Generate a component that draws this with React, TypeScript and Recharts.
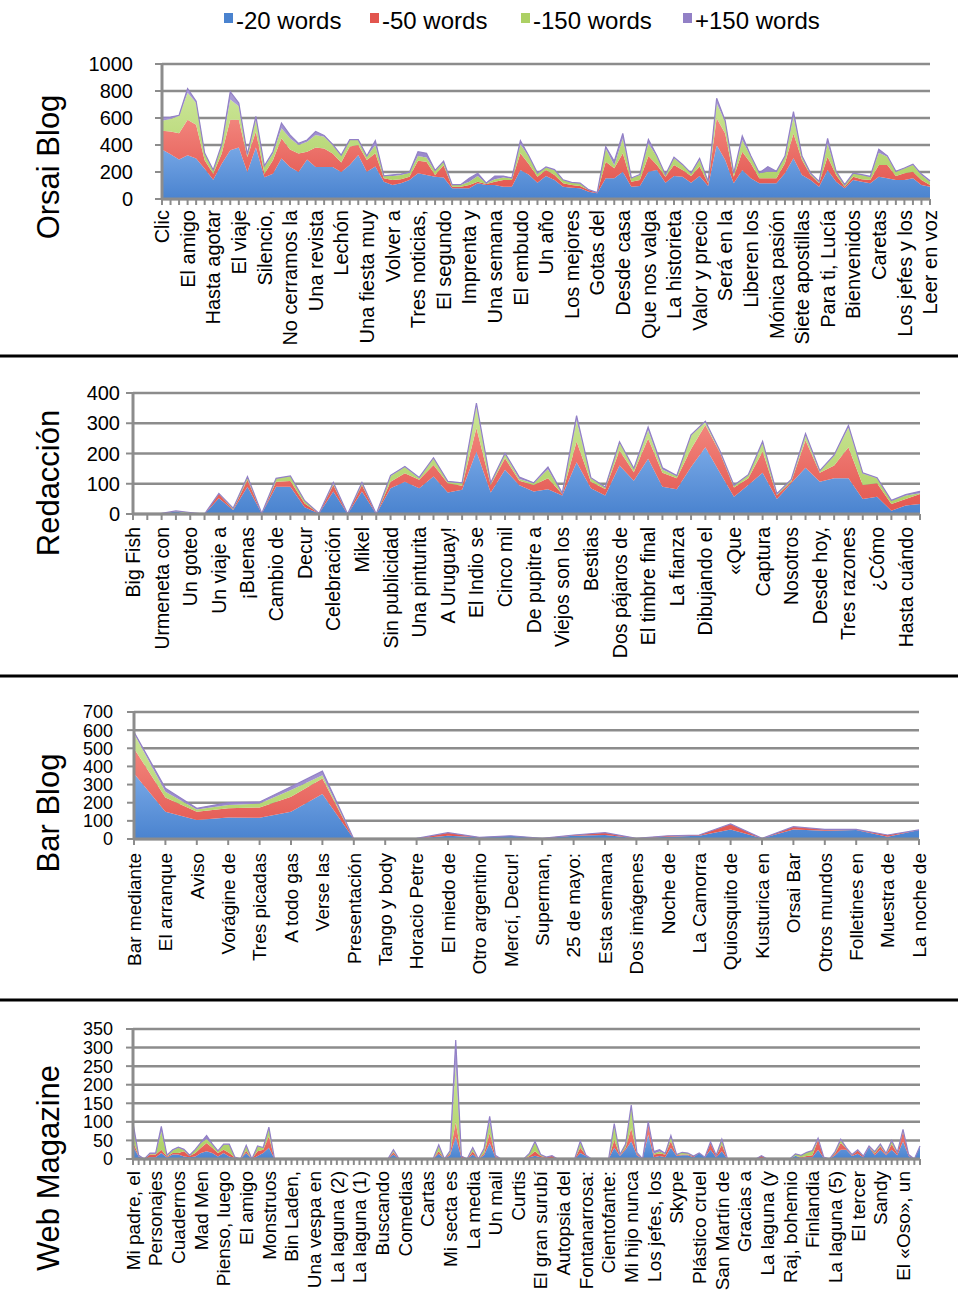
import React from 'react';
import { AreaChart, Area, XAxis, YAxis, CartesianGrid } from 'recharts';

const W = 958;
const FONT = '"Liberation Sans", Arial, Helvetica, sans-serif';
const GRID = '#8c8c8c';

const seriesKeys = ['w20', 'w50', 'w150', 'wMore'];
const seriesNames = ['-20 words', '-50 words', '-150 words', '+150 words'];
const seriesDark = ['#4a83cf', '#e2554e', '#acd064', '#9280c6'];
const seriesLight = ['#78a8e6', '#f2857d', '#cbe597', '#ab9dd8'];

// ---- Orsai Blog (91 posts, every 3rd labelled)
const orsaiLabels = ['Clic', 'El amigo', 'Hasta agotar', 'El viaje', 'Silencio,', 'No cerramos la', 'Una revista', 'Lechón', 'Una fiesta muy', 'Volver a', 'Tres noticias,', 'El segundo', 'Imprenta y', 'Una semana', 'El embudo', 'Un año', 'Los mejores', 'Gotas del', 'Desde casa', 'Que nos valga', 'La historieta', 'Valor y precio', 'Será en la', 'Liberen los', 'Mónica pasión', 'Siete apostillas', 'Para ti, Lucía', 'Bienvenidos', 'Caretas', 'Los jefes y los', 'Leer en voz'];
const orsai20 = [
  367, 332, 292, 325, 300, 225, 142, 262, 362, 382,
  200, 382, 162, 187, 300, 237, 200, 292, 237, 237,
  237, 200, 252, 326, 202, 240, 128, 104, 116, 140,
  190, 178, 165, 160, 79, 79, 79, 116, 104, 104,
  91, 91, 215, 180, 121, 170, 140, 91, 84, 79,
  54, 42, 153, 153, 202, 91, 96, 202, 215, 121,
  170, 165, 121, 170, 96, 400, 289, 116, 215, 153,
  116, 116, 116, 190, 301, 178, 140, 91, 215, 128,
  79, 140, 128, 116, 165, 153, 140, 140, 153, 104,
  91,
];
const orsai50 = [
  138, 168, 195, 262, 250, 62, 45, 75, 225, 205,
  112, 118, 25, 100, 150, 130, 137, 58, 145, 138,
  100, 70, 136, 74, 87, 98, 25, 36, 30, 25,
  94, 98, 13, 90, 12, 12, 25, 12, 7, 24,
  49, 49, 123, 77, 44, 45, 38, 25, 20, 17,
  13, 5, 123, 74, 136, 37, 44, 116, 37, 44,
  82, 50, 49, 70, 20, 198, 197, 49, 135, 111,
  37, 37, 37, 74, 185, 111, 38, 25, 98, 50,
  12, 25, 18, 24, 87, 99, 30, 50, 49, 36,
  13,
];
const orsai150 = [
  75, 92, 130, 200, 162, 50, 25, 63, 150, 100,
  13, 87, 50, 50, 75, 83, 63, 75, 93, 87,
  63, 50, 49, 37, 24, 62, 17, 30, 32, 30,
  34, 32, 32, 26, 13, 13, 24, 42, 5, 18,
  20, 13, 67, 56, 25, 19, 37, 24, 17, 20,
  0, 0, 99, 23, 111, 25, 38, 94, 61, 13,
  49, 37, 20, 49, 12, 111, 87, 25, 87, 49,
  37, 49, 49, 49, 124, 24, 12, 12, 99, 24,
  13, 25, 32, 25, 91, 61, 32, 37, 50, 38,
  24,
];
const orsaiMore = [
  25, 15, 3, 30, 13, 3, 3, 5, 58, 25,
  5, 25, 8, 13, 37, 25, 12, 12, 25, 8,
  5, 5, 3, 3, 5, 32, 2, 8, 7, 3,
  32, 30, 2, 4, 2, 2, 25, 20, 2, 24,
  10, 3, 27, 5, 2, 3, 3, 2, 2, 2,
  2, 1, 13, 30, 37, 3, 4, 30, 7, 2,
  9, 4, 2, 12, 2, 37, 7, 2, 30, 7,
  3, 38, 3, 5, 37, 5, 2, 2, 37, 3,
  2, 2, 3, 2, 25, 7, 3, 3, 6, 7,
  7,
];

// ---- Redacción (56 posts, every 2nd labelled)
const redLabels = ['Big Fish', 'Urmeneta con', 'Un goteo', 'Un viaje a', '¡Buenas', 'Cambio de', 'Decur', 'Celebración', 'Mikel', 'Sin publicidad', 'Una pinturita', 'A Uruguay!', 'El Indio se', 'Cinco mil', 'De pupitre a', 'Viejos son los', 'Bestias', 'Dos pájaros de', 'El timbre final', 'La fianza', 'Dibujando el', '«Que', 'Captura', 'Nosotros', 'Desde hoy,', 'Tres razones', '¿Cómo', 'Hasta cuándo'];
const red20 = [
  0, 0, 2, 8, 0, 0, 52, 13, 90, 2,
  90, 90, 22, 2, 74, 0, 74, 0, 85, 107,
  85, 124, 71, 80, 207, 71, 146, 95, 74, 82,
  61, 171, 85, 61, 160, 110, 183, 90, 82, 155,
  221, 138, 57, 96, 136, 50, 102, 153, 107, 118,
  118, 50, 57, 11, 28, 33,
];
const red50 = [
  0, 0, 0, 0, 0, 0, 14, 2, 23, 0,
  17, 19, 13, 0, 22, 0, 22, 0, 22, 28,
  28, 38, 31, 13, 77, 25, 38, 15, 22, 36,
  5, 69, 22, 22, 50, 28, 67, 46, 36, 60,
  73, 67, 31, 22, 71, 12, 5, 91, 29, 42,
  103, 46, 45, 22, 22, 33,
];
const red150 = [
  0, 0, 0, 2, 5, 0, 2, 4, 11, 0,
  11, 17, 9, 0, 8, 0, 8, 0, 19, 20,
  5, 22, 5, 9, 72, 6, 15, 6, 6, 30,
  2, 71, 11, 5, 27, 11, 28, 11, 8, 45,
  11, 5, 6, 11, 31, 4, 6, 16, 6, 33,
  66, 38, 16, 11, 11, 3,
];
const redMore = [
  0, 0, 0, 0, 0, 0, 0, 0, 0, 0,
  0, 0, 0, 0, 0, 0, 0, 0, 2, 2,
  3, 2, 1, 1, 11, 1, 2, 6, 1, 7,
  1, 14, 2, 1, 2, 2, 9, 6, 1, 2,
  2, 1, 1, 1, 2, 1, 1, 6, 1, 2,
  6, 2, 2, 1, 3, 6,
];

// ---- Bar Blog (26 posts, all labelled)
const barLabels = ['Bar mediante', 'El arranque', 'Aviso', 'Vorágine de', 'Tres picadas', 'A todo gas', 'Verse las', 'Presentación', 'Tango y body', 'Horacio Petre', 'El miedo de', 'Otro argentino', 'Mercí, Decur!', 'Superman,', '25 de mayo:', 'Esta semana', 'Dos imágenes', 'Noche de', 'La Camorra', 'Quiosquito de', 'Kusturica en', 'Orsai Bar', 'Otros mundos', 'Folletines en', 'Muestra de', 'La noche de'];
const bar20 = [361, 150, 105, 119, 117, 150, 248, 0, 0, 3, 18, 9, 18, 4, 18, 22, 4, 13, 18, 53, 4, 53, 46, 50, 13, 50];
const bar50 = [138, 79, 45, 50, 57, 83, 86, 0, 0, 0, 17, 0, 0, 0, 4, 13, 0, 5, 4, 30, 0, 15, 7, 3, 9, 0];
const bar150 = [83, 31, 13, 18, 22, 37, 18, 0, 0, 0, 0, 0, 0, 0, 0, 0, 0, 0, 0, 0, 0, 0, 0, 0, 0, 0];
const barMore = [8, 19, 6, 13, 8, 18, 22, 0, 0, 0, 0, 0, 0, 0, 0, 0, 0, 0, 0, 0, 0, 0, 0, 0, 0, 0];

// ---- Web Magazine (140 posts, every 4th labelled)
const webLabels = ['Mi padre, el', 'Personajes', 'Cuadernos', 'Mad Men', 'Pienso, luego', 'El amigo', 'Monstruos', 'Bin Laden,', 'Una vespa en', 'La laguna (2)', 'La laguna (1)', 'Buscando', 'Comedias', 'Cartas', 'Mi secta es', 'La media', 'Un mail', 'Curtis', 'El gran surubí', 'Autopsia del', 'Fontanarrosa:', 'Cientofante:', 'Mi hijo nunca', 'Los jefes, los', 'Skype', 'Plástico cruel', 'San Martín de', 'Gracias a', 'La laguna (y', 'Raj, bohemio', 'Finlandia', 'La laguna (5)', 'El tercer', 'Sandy', 'El «Oso», un'];
const web20 = [
  34, 7, 0, 5, 5, 16, 4, 12, 12, 7,
  5, 7, 16, 21, 16, 7, 16, 7, 3, 0,
  16, 0, 8, 16, 30, 0, 0, 0, 0, 0,
  0, 0, 0, 0, 0, 0, 0, 0, 0, 0,
  0, 0, 0, 0, 0, 0, 12, 0, 0, 0,
  0, 0, 0, 0, 14, 0, 10, 60, 3, 0,
  12, 0, 10, 43, 5, 0, 0, 0, 0, 0,
  5, 9, 5, 3, 3, 0, 0, 0, 0, 16,
  8, 0, 0, 0, 0, 30, 8, 25, 48, 10,
  0, 66, 5, 8, 5, 30, 8, 10, 10, 5,
  16, 5, 25, 5, 21, 0, 0, 0, 0, 0,
  0, 3, 0, 0, 0, 0, 0, 9, 3, 5,
  5, 25, 3, 0, 10, 25, 25, 8, 14, 5,
  32, 10, 25, 10, 25, 10, 48, 8, 0, 34,
];
const web50 = [
  14, 1, 0, 7, 7, 9, 3, 4, 4, 14,
  3, 9, 14, 22, 14, 9, 9, 9, 1, 0,
  6, 0, 13, 9, 31, 0, 0, 0, 0, 0,
  0, 0, 0, 0, 0, 0, 0, 0, 0, 0,
  0, 0, 0, 0, 0, 0, 6, 0, 0, 0,
  0, 0, 0, 0, 7, 0, 5, 40, 5, 0,
  8, 0, 5, 27, 3, 0, 0, 0, 0, 0,
  3, 12, 3, 2, 6, 0, 0, 0, 0, 14,
  2, 0, 0, 0, 0, 22, 2, 5, 35, 5,
  0, 31, 7, 7, 7, 18, 2, 2, 2, 3,
  0, 0, 18, 3, 18, 0, 0, 0, 0, 0,
  0, 6, 0, 0, 0, 0, 0, 0, 2, 3,
  5, 27, 2, 0, 5, 18, 3, 2, 9, 3,
  2, 5, 9, 2, 15, 5, 27, 4, 0, 1,
];
const web150 = [
  35, 1, 0, 2, 2, 50, 2, 7, 14, 4,
  2, 9, 13, 11, 9, 5, 14, 23, 1, 0,
  14, 0, 13, 5, 22, 0, 0, 0, 0, 0,
  0, 0, 0, 0, 0, 0, 0, 0, 0, 0,
  0, 0, 0, 0, 0, 0, 4, 0, 0, 0,
  0, 0, 0, 0, 13, 0, 5, 155, 0, 0,
  8, 0, 10, 31, 2, 0, 0, 0, 0, 0,
  7, 24, 4, 0, 0, 0, 0, 0, 0, 15,
  0, 0, 0, 0, 0, 40, 2, 10, 59, 3,
  0, 0, 3, 5, 2, 13, 2, 6, 4, 0,
  0, 0, 2, 2, 13, 0, 0, 0, 0, 0,
  0, 0, 0, 0, 0, 0, 0, 5, 5, 10,
  13, 3, 0, 0, 5, 9, 2, 2, 2, 0,
  1, 5, 5, 3, 8, 3, 3, 0, 0, 0,
];
const webMore = [
  14, 1, 0, 2, 2, 13, 1, 2, 2, 1,
  0, 1, 2, 9, 2, 1, 1, 1, 0, 0,
  1, 0, 1, 1, 3, 0, 0, 0, 0, 0,
  0, 0, 0, 0, 0, 0, 0, 0, 0, 0,
  0, 0, 0, 0, 0, 0, 3, 0, 0, 0,
  0, 0, 0, 0, 4, 0, 2, 65, 0, 0,
  3, 0, 3, 14, 0, 0, 0, 0, 0, 0,
  0, 2, 0, 0, 0, 0, 0, 0, 0, 3,
  0, 0, 0, 0, 0, 3, 0, 0, 3, 0,
  0, 3, 5, 5, 1, 2, 0, 0, 0, 0,
  0, 0, 1, 0, 1, 0, 0, 0, 0, 0,
  0, 0, 0, 0, 0, 0, 0, 0, 0, 0,
  0, 1, 0, 0, 0, 1, 0, 0, 0, 0,
  0, 0, 1, 0, 2, 0, 2, 0, 0, 0,
];

type PanelProps = {
  id: string;
  labels: string[];
  step: number;
  w20: number[];
  w50: number[];
  w150: number[];
  wMore: number[];
  yTicks: number[];
  top: number;
  height: number;
  plotTop: number;
  plotBottom: number;
  plotLeft: number;
  plotRight: number;
  yGap: number;
  yFont: number;
  xGap: number;
  xFont: number;
};

function Panel(p: PanelProps) {
  const data = p.w20.map((v, i) => ({
    name: i % p.step === 0 ? p.labels[i / p.step] : '',
    w20: v,
    w50: p.w50[i],
    w150: p.w150[i],
    wMore: p.wMore[i],
  }));
  const xAxisHeight = p.top + p.height - p.plotBottom;
  const yMax = p.yTicks[p.yTicks.length - 1];

  const renderTick = (props: any) => {
    const { x, y, index } = props;
    if (index % p.step !== 0) return <g />;
    const ty = y + p.xGap;
    return (
      <text
        x={x}
        y={ty}
        transform={`rotate(-90, ${x}, ${ty})`}
        textAnchor="end"
        dy="0.36em"
        fontSize={p.xFont}
        fontFamily={FONT}
        fill="#000"
      >
        {p.labels[index / p.step]}
      </text>
    );
  };

  return (
    <div style={{ position: 'absolute', left: 0, top: p.top }}>
      <AreaChart
        width={W}
        height={p.height}
        data={data}
        margin={{ top: p.plotTop - p.top, right: W - p.plotRight, bottom: 0, left: 0 }}
      >
        <defs>
          {seriesKeys.map((k, i) => (
            <linearGradient key={k} id={`${p.id}-${k}`} x1="0" y1="0" x2="0" y2="1">
              <stop offset="0%" stopColor={seriesLight[i]} />
              <stop offset="100%" stopColor={seriesDark[i]} />
            </linearGradient>
          ))}
        </defs>
        <CartesianGrid vertical={false} stroke={GRID} strokeWidth={2.5} />
        <XAxis
          dataKey="name"
          interval={0}
          height={xAxisHeight}
          axisLine={{ stroke: GRID, strokeWidth: 3 }}
          tickLine={{ stroke: GRID, strokeWidth: 2 }}
          tickSize={6}
          tickMargin={2}
          tick={renderTick}
        />
        <YAxis
          type="number"
          domain={[0, yMax]}
          ticks={p.yTicks}
          interval={0}
          width={p.plotLeft}
          axisLine={{ stroke: GRID, strokeWidth: 3 }}
          tickLine={{ stroke: GRID, strokeWidth: 2 }}
          tickSize={7}
          tickMargin={p.yGap}
          tick={{ fontSize: p.yFont, fill: '#000', fontFamily: FONT }}
        />
        {seriesKeys.map((k, i) => (
          <Area
            key={k}
            type="linear"
            dataKey={k}
            name={seriesNames[i]}
            stackId="1"
            fill={`url(#${p.id}-${k})`}
            fillOpacity={1}
            stroke={k === 'wMore' ? seriesDark[i] : 'none'}
            strokeWidth={k === 'wMore' ? 1.2 : 0}
            dot={false}
            activeDot={false}
            isAnimationActive={false}
          />
        ))}
      </AreaChart>
    </div>
  );
}

const legendSquares = [224, 370, 521, 683];

export default function App() {
  return (
    <div style={{ position: 'absolute', left: 0, top: 0, width: W, height: 1291, background: '#fff', fontFamily: FONT, overflow: 'hidden' }}>
      <svg width={W} height={1291} style={{ position: 'absolute', left: 0, top: 0 }}>
        {seriesNames.map((n, i) => (
          <g key={n}>
            <rect x={legendSquares[i]} y={13} width={9} height={10} fill={seriesDark[i]} />
            <text x={legendSquares[i] + 12} y={29} fontSize={24} fontFamily={FONT} fill="#000">{n}</text>
          </g>
        ))}
        {[
          { t: 'Orsai Blog', y: 167 },
          { t: 'Redacción', y: 483 },
          { t: 'Bar Blog', y: 813 },
          { t: 'Web Magazine', y: 1168 },
        ].map((d) => (
          <text
            key={d.t}
            x={48}
            y={d.y}
            transform={`rotate(-90, 48, ${d.y})`}
            textAnchor="middle"
            dy="0.35em"
            fontSize={31}
            fontFamily={FONT}
            fill="#000"
          >
            {d.t}
          </text>
        ))}
        {[356, 676, 1000].map((y) => (
          <rect key={y} x={0} y={y - 1.5} width={W} height={3} fill="#000" />
        ))}
      </svg>
      <Panel id="orsai" labels={orsaiLabels} step={3} w20={orsai20} w50={orsai50} w150={orsai150} wMore={orsaiMore}
        yTicks={[0, 200, 400, 600, 800, 1000]} top={50} height={300} plotTop={64} plotBottom={199} plotLeft={162} plotRight={930}
        yGap={22} yFont={20} xGap={3} xFont={20} />
      <Panel id="red" labels={redLabels} step={2} w20={red20} w50={red50} w150={red150} wMore={redMore}
        yTicks={[0, 100, 200, 300, 400]} top={370} height={295} plotTop={393} plotBottom={514} plotLeft={133} plotRight={920}
        yGap={6} yFont={20} xGap={5} xFont={19.5} />
      <Panel id="bar" labels={barLabels} step={1} w20={bar20} w50={bar50} w150={bar150} wMore={barMore}
        yTicks={[0, 100, 200, 300, 400, 500, 600, 700]} top={690} height={300} plotTop={712} plotBottom={839} plotLeft={134} plotRight={919}
        yGap={14} yFont={18} xGap={6} xFont={19} />
      <Panel id="web" labels={webLabels} step={4} w20={web20} w50={web50} w150={web150} wMore={webMore}
        yTicks={[0, 50, 100, 150, 200, 250, 300, 350]} top={1010} height={281} plotTop={1029} plotBottom={1159} plotLeft={133} plotRight={920}
        yGap={13} yFont={18} xGap={4} xFont={19} />
    </div>
  );
}
